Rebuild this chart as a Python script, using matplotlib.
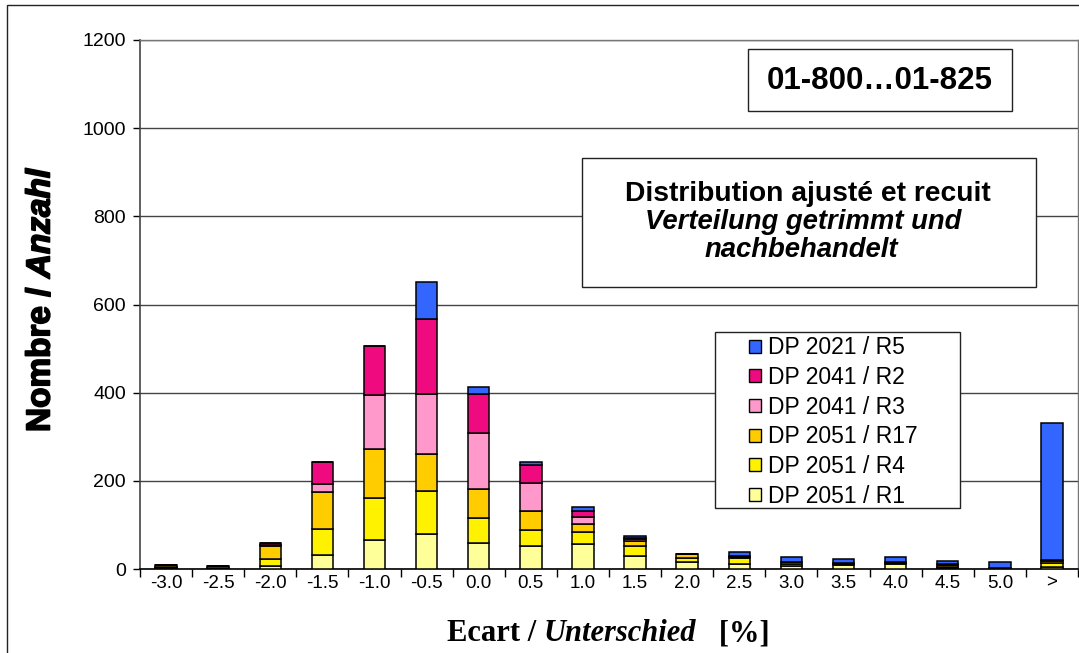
import numpy as np
import matplotlib.pyplot as plt
from matplotlib.patches import Patch, Rectangle
import matplotlib.patheffects as pe

W, H = 1079, 653  # figure size in pixels

# difference classes and counts per lot (stacked bottom to top)
categories = ['-3.0', '-2.5', '-2.0', '-1.5', '-1.0', '-0.5', '0.0', '0.5', '1.0',
              '1.5', '2.0', '2.5', '3.0', '3.5', '4.0', '4.5', '5.0', '>']
dp2051_r1 = [2, 1, 6, 32, 65, 80, 60, 53, 56, 29, 16, 12, 6, 10, 12, 2, 1, 4]
dp2051_r4 = [2, 1, 16, 59, 97, 98, 56, 36, 28, 24, 9, 12, 6, 2, 2, 3, 1, 9]
dp2051_r17 = [6, 5, 31, 84, 110, 84, 66, 43, 19, 11, 10, 3, 3, 1, 2, 4, 0, 6]
dp2041_r3 = [0, 0, 2, 18, 123, 135, 126, 62, 16, 3, 0, 1, 1, 0, 1, 1, 0, 1]
dp2041_r2 = [0, 0, 4, 49, 110, 171, 89, 42, 12, 4, 0, 1, 1, 0, 0, 2, 0, 1]
dp2021_r5 = [0, 0, 0, 0, 0, 83, 15, 6, 10, 3, 0, 10, 10, 9, 10, 7, 14, 311]

series = [
    ('DP 2051 / R1', dp2051_r1, '#FFFF99'),
    ('DP 2051 / R4', dp2051_r4, '#FFF200'),
    ('DP 2051 / R17', dp2051_r17, '#FFCC00'),
    ('DP 2041 / R3', dp2041_r3, '#FF99CC'),
    ('DP 2041 / R2', dp2041_r2, '#F00A80'),
    ('DP 2021 / R5', dp2021_r5, '#3366FF'),
]


def fx(x):  # pixel x -> figure fraction
    return x / W


def fy(y):  # pixel y (from top) -> figure fraction
    return 1 - y / H


plt.rcParams['font.family'] = ['Liberation Sans', 'DejaVu Sans']

fig = plt.figure(figsize=(W / 100, H / 100), dpi=100)
ax = fig.add_axes([fx(140), fy(569), fx(1078) - fx(140), fy(40) - fy(569)])

x = np.arange(len(categories))
bottom = np.zeros(len(categories))
for name, vals, col in series:
    vals = np.array(vals, dtype=float)
    ax.bar(x, vals, width=0.41, bottom=bottom, color=col, edgecolor='black',
           linewidth=1.1, zorder=3)
    bottom += vals

ax.set_xlim(-0.5, len(categories) - 0.5)
ax.set_ylim(0, 1200)
ax.set_yticks(np.arange(0, 1201, 200))
ax.yaxis.grid(True, color='#444444', linewidth=1.0, zorder=0)
ax.set_xticks(x)
ax.set_xticklabels(categories)
ax.set_xticks(np.arange(-0.5, len(categories), 1.0), minor=True)
ax.tick_params(axis='x', which='major', length=0, pad=4, labelsize=13.5)
ax.tick_params(axis='x', which='minor', length=6, width=1, direction='out')
ax.tick_params(axis='y', length=5, width=1, direction='out', pad=5, labelsize=14)

for side in ['top', 'right']:
    ax.spines[side].set_color('#777777')
    ax.spines[side].set_linewidth(1.0)
ax.spines['left'].set_color('#444444')
ax.spines['bottom'].set_color('black')
ax.spines['left'].set_linewidth(1.2)
ax.spines['bottom'].set_linewidth(1.2)

# y label: "Nombre / " bold, "Anzahl" bold italic
thick = [pe.withStroke(linewidth=1.2, foreground='black')]
t1 = fig.text(fx(41), fy(432), 'Nombre / ', rotation=90, ha='center', va='bottom',
              fontsize=24, fontweight='bold', path_effects=thick)
ax.annotate('Anzahl', xy=(0.5, 1), xycoords=t1, rotation=90, ha='center', va='bottom',
            fontsize=24, fontweight='bold', style='italic', path_effects=thick)

# x label in serif: "Ecart / Unterschied   [%]"
serif = ['Liberation Serif', 'DejaVu Serif']
t2 = fig.text(fx(447), fy(648), 'Ecart / ', ha='left', va='bottom',
              fontsize=22, fontweight='bold', family=serif)
t3 = ax.annotate('Unterschied', xy=(1, 0), xycoords=t2, ha='left', va='bottom',
                 fontsize=22, fontweight='bold', style='italic', family=serif)
ax.annotate('   [%]', xy=(1, 0), xycoords=t3, ha='left', va='bottom',
            fontsize=22, fontweight='bold', family=serif)

# text boxes
box_kw = dict(transform=fig.transFigure, fill=True, facecolor='white',
              edgecolor='#222222', linewidth=1.0, zorder=5)
fig.patches.append(Rectangle((fx(748), fy(111)), fx(1012) - fx(748), fy(49) - fy(111), **box_kw))
fig.text(fx(880), fy(81), '01-800…01-825', ha='center', va='center',
         fontsize=22.5, fontweight='bold', zorder=6)

fig.patches.append(Rectangle((fx(582), fy(287)), fx(1036) - fx(582), fy(158) - fy(287), **box_kw))
fig.text(fx(808), fy(194), 'Distribution ajusté et recuit', ha='center', va='center',
         fontsize=20.3, fontweight='bold', zorder=6)
fig.text(fx(803), fy(222), 'Verteilung getrimmt und', ha='center', va='center',
         fontsize=19.8, fontweight='bold', style='italic', zorder=6)
fig.text(fx(801), fy(250), 'nachbehandelt', ha='center', va='center',
         fontsize=19.8, fontweight='bold', style='italic', zorder=6)

# legend, top entry = last stacked series
fig.patches.append(Rectangle((fx(715), fy(508)), fx(960) - fx(715), fy(332) - fy(508), **box_kw))
handles = [Patch(facecolor=col, edgecolor='black', linewidth=1.0) for _, _, col in series][::-1]
labels = [name for name, _, _ in series][::-1]
leg = fig.legend(handles, labels, loc='upper left', bbox_to_anchor=(fx(747), fy(334)),
                 frameon=False, fontsize=16.5, handlelength=0.5, handleheight=0.5,
                 handletextpad=0.3, labelspacing=0.29, borderpad=0.1, borderaxespad=0)
leg.set_zorder(7)

# outer chart frame
fig.patches.append(Rectangle((fx(7), -0.1), 1.2, fy(5) + 0.1, transform=fig.transFigure,
                             fill=False, edgecolor='#222222', linewidth=1.0))

fig.savefig('out.png', dpi=100)
